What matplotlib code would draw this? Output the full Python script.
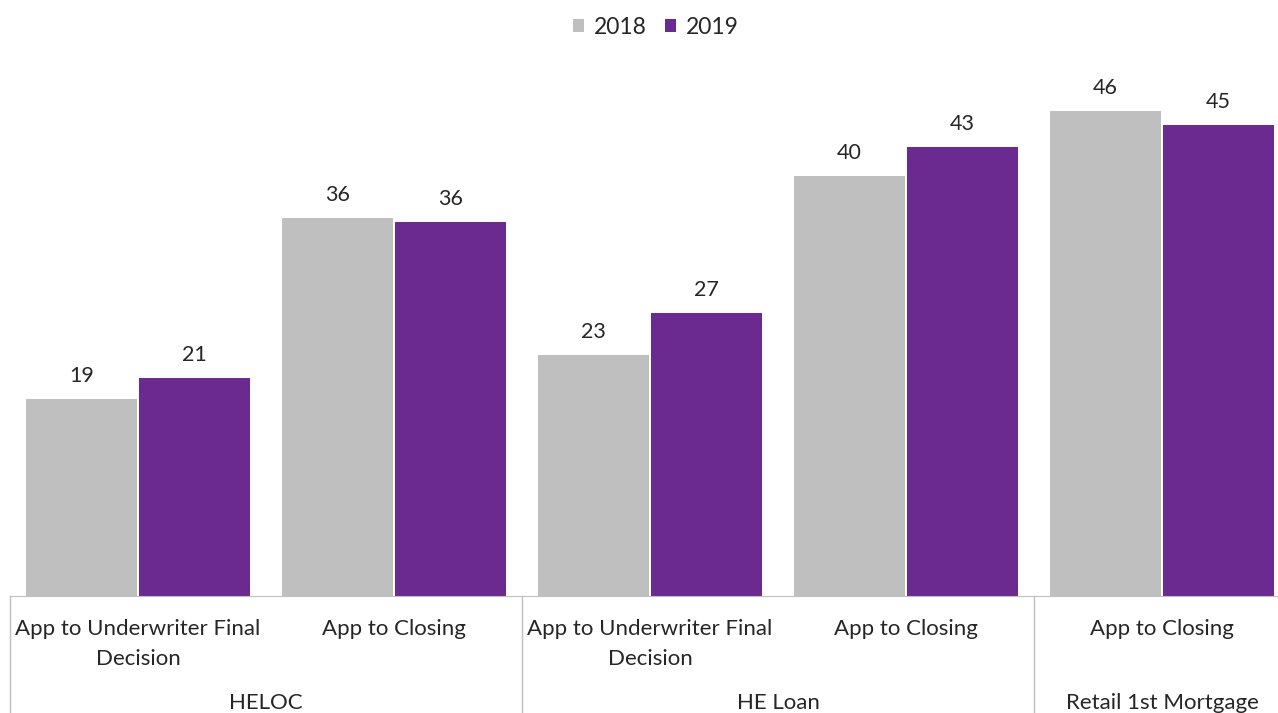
import matplotlib.pyplot as plt
import matplotlib.transforms as mtransforms
import numpy as np

# data
subcats = ["App to Underwriter Final\nDecision", "App to Closing",
           "App to Underwriter Final\nDecision", "App to Closing",
           "App to Closing"]
groups = ["HELOC", "HE Loan", "Retail 1st Mortgage"]
group_sizes = [2, 2, 1]
vals_2018 = [18.8, 36.0, 23.0, 40.0, 46.2]
vals_2019 = [20.8, 35.6, 27.0, 42.8, 44.9]
series_names = ["2018", "2019"]

GRAY = "#bfbfbf"
PURPLE = "#6a2a90"
LINE = "#bfbfbf"
TXT = "#262626"

plt.rcParams['font.family'] = ['Lato', 'DejaVu Sans']

W, H = 1278, 713
fig = plt.figure(figsize=(W / 100, H / 100), dpi=100)
# axes: left edge at x=10px, baseline at y=596px, runs past the right edge
ax = fig.add_axes([10 / W, (H - 596) / H, 1280 / W, 525 / H])

x = np.arange(len(subcats))
bw = 0.43
off = 0.2207
b1 = ax.bar(x - off, vals_2018, bw, color=GRAY, label=series_names[0])
b2 = ax.bar(x + off, vals_2019, bw, color=PURPLE, label=series_names[1])

for bars in (b1, b2):
    for r in bars:
        ax.annotate(f"{r.get_height():.0f}",
                    (r.get_x() + r.get_width() / 2, r.get_height()),
                    xytext=(0, 16.5), textcoords="offset points",
                    ha="center", va="center", fontsize=15.5, color=TXT)

ax.set_xlim(-0.5, len(subcats) - 0.5)
ax.set_ylim(0, 50)
ax.set_xticks([])
ax.set_yticks([])
for s in ["top", "right", "left"]:
    ax.spines[s].set_visible(False)
ax.spines["bottom"].set_color(LINE)

trans = mtransforms.blended_transform_factory(ax.transData, ax.transAxes)
px = 1 / 525  # one pixel in axes-height units

# sub-category labels
for i, lab in enumerate(subcats):
    ax.text(i, -23 * px, lab, transform=trans, ha="center", va="top",
            fontsize=16, color=TXT, linespacing=1.65)

# group labels and separators
start = 0
edges = [0]
for g, n in zip(groups, group_sizes):
    mid = start + n / 2 - 0.5
    ax.text(mid, -107 * px, g, transform=trans, ha="center", va="center",
            fontsize=16, color=TXT)
    start += n
    edges.append(start)
for e in edges:
    ax.plot([e - 0.5, e - 0.5], [0, -130 * px], transform=trans,
            color=LINE, lw=1, clip_on=False)

leg = fig.legend(loc="upper center", bbox_to_anchor=(0.513, 1.005), ncol=2,
                 frameon=False, fontsize=16.5, handlelength=0.5, handleheight=0.5,
                 handletextpad=0.4, columnspacing=0.8, labelcolor=TXT)

fig.savefig("out.png", dpi=100)
